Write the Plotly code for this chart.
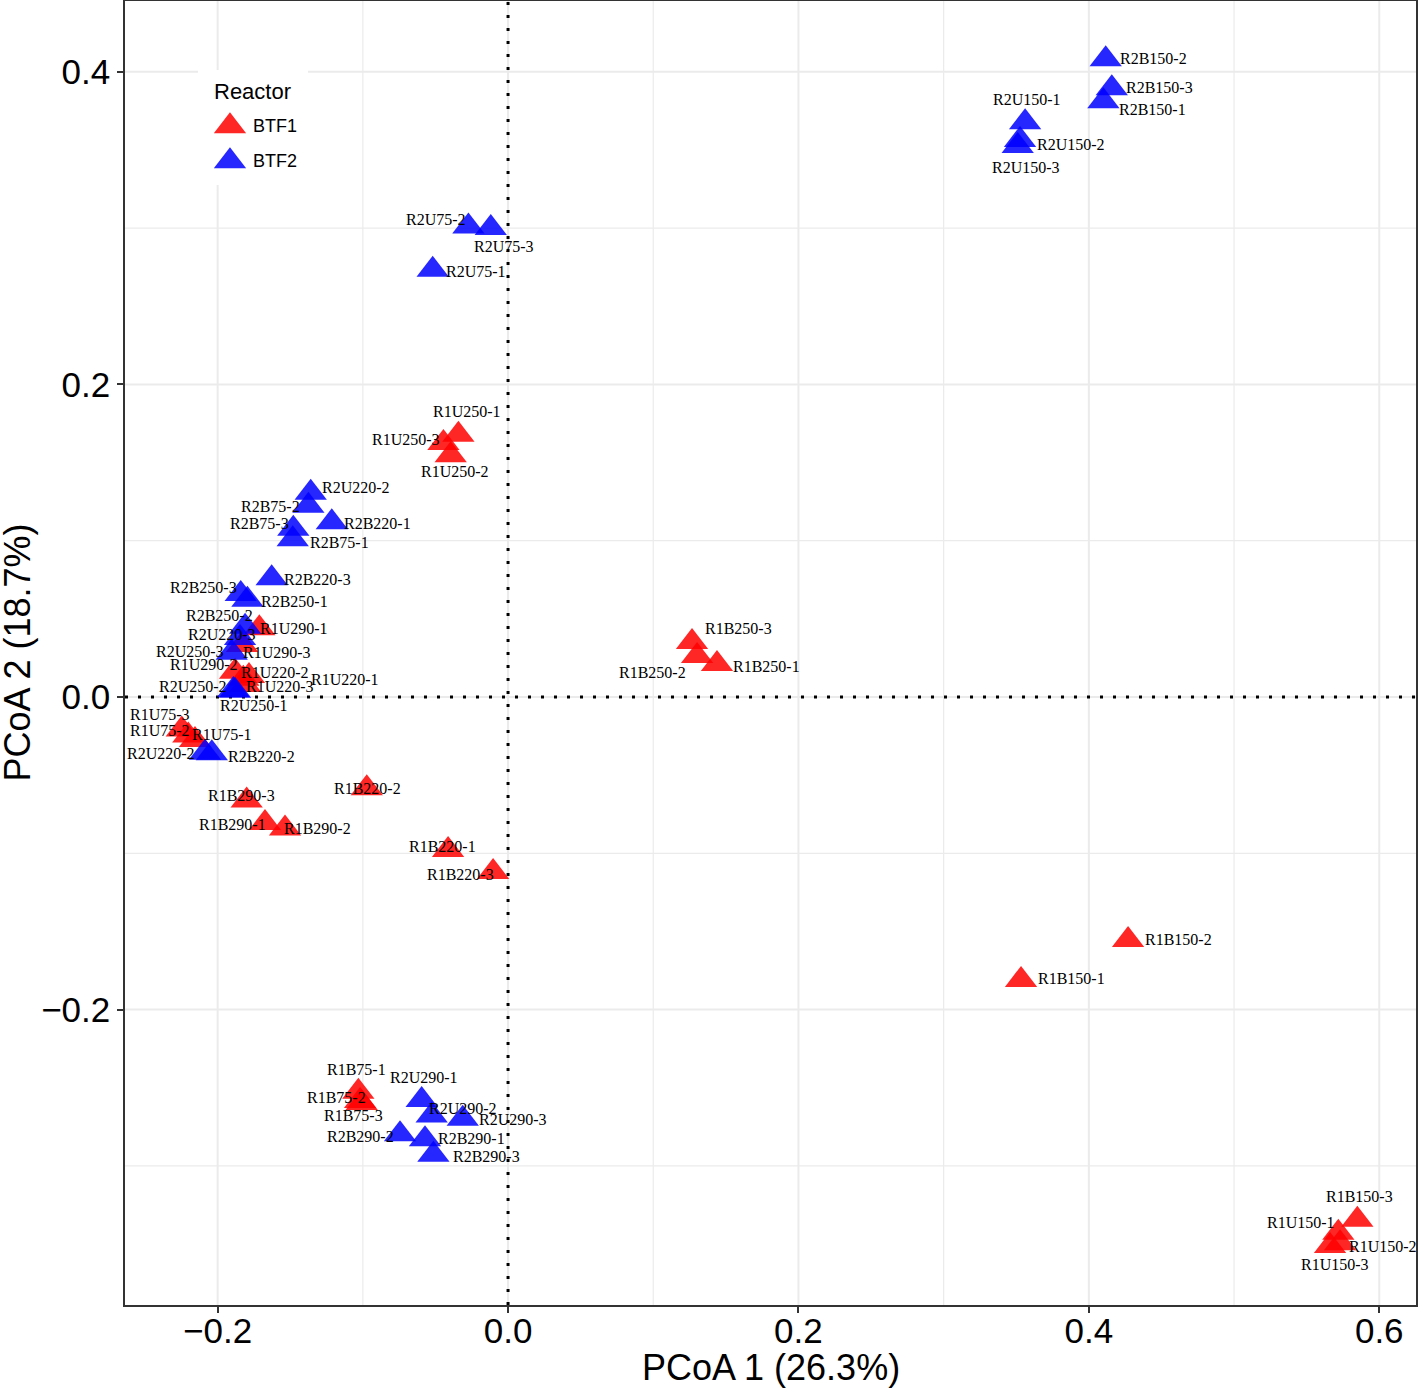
import plotly.graph_objects as go

# ---- data ----
samples = ["R2B150-2", "R2B150-3", "R2B150-1", "R2U150-1", "R2U150-2", "R2U150-3",
           "R2U75-2", "R2U75-3", "R2U75-1",
           "R2U220-2", "R2B75-2", "R2B220-1", "R2B75-3", "R2B75-1", "R2B220-3",
           "R2B250-3", "R2B250-1", "R2B250-2", "R2U220-3", "R2U250-3", "R2U250-2", "R2U250-1",
           "R2U220-2", "R2B220-2",
           "R2U290-1", "R2U290-2", "R2U290-3", "R2B290-2", "R2B290-1", "R2B290-3",
           "R1U250-1", "R1U250-3", "R1U250-2",
           "R1U290-1", "R1U290-3", "R1U290-2", "R1U220-2", "R1U220-1", "R1U220-3",
           "R1U75-3", "R1U75-2", "R1U75-1",
           "R1B290-3", "R1B290-1", "R1B290-2", "R1B220-2", "R1B220-1", "R1B220-3",
           "R1B150-2", "R1B150-1", "R1B250-3", "R1B250-2", "R1B250-1",
           "R1B75-1", "R1B75-2", "R1B75-3",
           "R1B150-3", "R1U150-1", "R1U150-2", "R1U150-3"]

pcoa1 = [0.4116, 0.4158, 0.4100, 0.3561, 0.3526, 0.3510,
         -0.0273, -0.0119, -0.0519,
         -0.1359, -0.1375, -0.1214, -0.1479, -0.1483, -0.1628,
         -0.1841, -0.1795, -0.1811, -0.1846, -0.1903, -0.1892, -0.1880,
         -0.2087, -0.2040,
         -0.0595, -0.0526, -0.0312, -0.0744, -0.0572, -0.0514,
         -0.0342, -0.0445, -0.0395,
         -0.1713, -0.1832, -0.1880, -0.1823, -0.1784, -0.1811,
         -0.2247, -0.2202, -0.2156,
         -0.1800, -0.1674, -0.1536, -0.0973, -0.0413, -0.0103,
         0.4270, 0.3533, 0.1267, 0.1302, 0.1439,
         -0.1031, -0.1019, -0.1008,
         0.5849, 0.5718, 0.5730, 0.5661]

pcoa2 = [0.4080, 0.3894, 0.3811, 0.3677, 0.3564, 0.3525,
         0.3011, 0.3000, 0.2733,
         0.1306, 0.1223, 0.1118, 0.1076, 0.1009, 0.0760,
         0.0659, 0.0622, 0.0450, 0.0378, 0.0283, 0.0045, 0.0040,
         -0.0357, -0.0360,
         -0.2578, -0.2678, -0.2699, -0.2798, -0.2830, -0.2928,
         0.1678, 0.1625, 0.1546,
         0.0440, 0.0333, 0.0162, 0.0116, 0.0134, 0.0077,
         -0.0208, -0.0247, -0.0275,
         -0.0663, -0.0806, -0.0842, -0.0584, -0.0979, -0.1120,
         -0.1555, -0.1810, 0.0352, 0.0262, 0.0211,
         -0.2525, -0.2585, -0.2598,
         -0.3345, -0.3428, -0.3495, -0.3512]

reactor = ["BTF2"] * 30 + ["BTF1"] * 30

# label offsets (pixels) of each text label from its point
label_dx = [48, 48, 49, 2, 51, 8,
            -32, 13, 43,
            45, -38, 46, -34, 47, 46,
            -37, 47, -26, -18, -42, -40, 19,
            -44, 50,
            2, 31, 50, -40, 47, 53,
            9, -37, 4,
            35, 35, -31, 32, 96, 35,
            -22, -28, 27,
            -5, -32, 32, 1, -6, -33,
            50, 50, 46, -45, 50,
            -2, -24, -8,
            2, -37, 43, 5]
label_dy = [1, 1, -8, 23, -5, -21,
            7, -18, -2,
            5, -1, -1, 5, -3, -1,
            7, -2, 11, 3, 1, 3, -15,
            -1, -3,
            22, 7, -1, -2, 1, -2,
            23, 4, -16,
            0, -8, 7, 6, -3, -2,
            15, 5, 5,
            5, -2, 0, 0, 4, -2,
            1, 1, 13, -16, -2,
            22, 4, -12,
            23, 10, -3, -19]

groups = ["BTF1", "BTF2"]
colors = {"BTF1": "rgba(255,0,0,0.85)", "BTF2": "rgba(0,0,255,0.85)"}

x_ticks = [-0.2, 0.0, 0.2, 0.4, 0.6]
x_ticklabels = ["\u22120.2", "0.0", "0.2", "0.4", "0.6"]
y_ticks = [-0.2, 0.0, 0.2, 0.4]
y_ticklabels = ["\u22120.2", "0.0", "0.2", "0.4"]
x_minor = [-0.1, 0.1, 0.3, 0.5]
y_minor = [-0.3, -0.1, 0.1, 0.3]

SANS = "Liberation Sans, Arial, sans-serif"
SERIF = "Liberation Serif, Times New Roman, serif"

fig = go.Figure()

for grp in groups:
    idx = [i for i, r in enumerate(reactor) if r == grp]
    fig.add_trace(go.Scatter(
        x=[pcoa1[i] for i in idx], y=[pcoa2[i] for i in idx],
        mode="markers", name=grp, showlegend=False,
        marker=dict(symbol="triangle-up", size=28, color=colors[grp], line=dict(width=0)),
    ))

# legend keys drawn on an overlay axis spanning the panel (0..1)
leg_x = [0.0813, 0.0813]
leg_y = [0.9039, 0.8771]
fig.add_trace(go.Scatter(
    x=leg_x, y=leg_y, xaxis="x2", yaxis="y2", mode="markers", showlegend=False,
    marker=dict(symbol="triangle-up", size=28, color=[colors[g] for g in groups], line=dict(width=0)),
    hoverinfo="skip",
))

annotations = []
for s, xv, yv, dx, dy in zip(samples, pcoa1, pcoa2, label_dx, label_dy):
    annotations.append(dict(
        x=xv, y=yv, xref="x", yref="y", text=s, showarrow=False,
        xshift=dx, yshift=dy,
        font=dict(family=SERIF, size=16, color="black"),
    ))

# legend texts
annotations.append(dict(x=(212 - 125) / 1291, y=1 - (91.5 - 1) / 1304, xref="paper", yref="paper", text="Reactor",
                        showarrow=False, xanchor="left", yanchor="middle",
                        font=dict(family=SANS, size=22, color="black")))
for g, ly in zip(groups, leg_y):
    annotations.append(dict(x=(251 - 125) / 1291, y=ly, xref="paper", yref="paper", text=g,
                            showarrow=False, xanchor="left", yanchor="middle",
                            font=dict(family=SANS, size=18, color="black")))

# axis titles
annotations.append(dict(x=0.5, y=-0.0483, xref="paper", yref="paper", text="PCoA 1 (26.3%)",
                        showarrow=False, xanchor="center", yanchor="middle",
                        font=dict(family=SANS, size=36, color="black")))
annotations.append(dict(x=-0.0840, y=0.5, xref="paper", yref="paper", text="PCoA 2 (18.7%)",
                        showarrow=False, xanchor="center", yanchor="middle", textangle=-90,
                        font=dict(family=SANS, size=36, color="black")))

shapes = []
for v in x_minor + x_ticks:
    shapes.append(dict(type="line", xref="x", yref="paper", x0=v, x1=v, y0=0, y1=1,
                       line=dict(color="#EBEBEB", width=1.2 if v in x_minor else 2), layer="below"))
for v in y_minor + y_ticks:
    shapes.append(dict(type="line", xref="paper", yref="y", x0=0, x1=1, y0=v, y1=v,
                       line=dict(color="#EBEBEB", width=1.2 if v in y_minor else 2), layer="below"))
shapes.append(dict(type="line", xref="x", yref="paper", x0=0, x1=0, y0=0, y1=1,
                   line=dict(color="black", width=3, dash="3px,10px"), layer="below"))
shapes.append(dict(type="line", xref="paper", yref="y", x0=0, x1=1, y0=0, y1=0,
                   line=dict(color="black", width=3, dash="3px,10px"), layer="below"))
# legend background box
shapes.append(dict(type="rect", xref="paper", yref="paper",
                   x0=(198 - 125) / 1291, x1=(308 - 125) / 1291,
                   y0=1 - (185 - 1) / 1304, y1=1 - (70 - 1) / 1304,
                   fillcolor="white", line=dict(width=0), layer="below"))

fig.update_layout(
    width=1418, height=1388,
    margin=dict(l=125, r=2, t=1, b=83, autoexpand=False),
    paper_bgcolor="white", plot_bgcolor="white",
    showlegend=False,
    xaxis=dict(
        range=[-0.2638, 0.6253], tickmode="array", tickvals=x_ticks, ticktext=x_ticklabels,
        showgrid=False, zeroline=False, showline=True, linecolor="#333333", linewidth=1.5, mirror=True,
        ticks="outside", ticklen=6, tickcolor="#333333", tickwidth=1.5, ticklabelstandoff=-12,
        tickfont=dict(family=SANS, size=35, color="black"), automargin=False,
    ),
    yaxis=dict(
        range=[-0.389, 0.4453], tickmode="array", tickvals=y_ticks, ticktext=y_ticklabels,
        showgrid=False, zeroline=False, showline=True, linecolor="#333333", linewidth=1.5, mirror=True,
        ticks="outside", ticklen=6, tickcolor="#333333", tickwidth=1.5,
        tickfont=dict(family=SANS, size=35, color="black"), automargin=False,
    ),
    xaxis2=dict(overlaying="x", range=[0, 1], visible=False, fixedrange=True),
    yaxis2=dict(overlaying="y", range=[0, 1], visible=False, fixedrange=True),
    annotations=annotations,
    shapes=shapes,
)

fig.write_html("out.html", config={"displayModeBar": False},
               post_script="document.body.style.margin='0px';")
